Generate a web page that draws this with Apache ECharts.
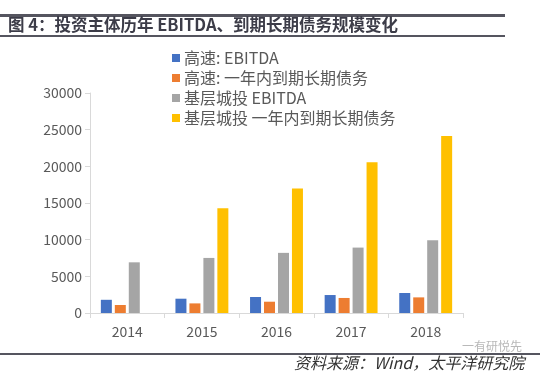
<!DOCTYPE html>
<html><head><meta charset="utf-8">
<script src="https://cdn.jsdelivr.net/npm/echarts@6/dist/echarts.min.js"></script>
<style>html,body{margin:0;padding:0;background:#fff}#c{width:550px;height:378px}</style>
</head><body><div id="c"></div>
<script>
const categories = ['2014','2015','2016','2017','2018'];
const seriesNames = ['高速: EBITDA','高速: 一年内到期长期债务','基层城投 EBITDA','基层城投 一年内到期长期债务'];
const hsEbitda = [1800, 1950, 2180, 2450, 2730];
const hsDebt = [1090, 1310, 1540, 2050, 2130];
const jcEbitda = [6910, 7510, 8200, 8920, 9920];
const jcDebt = [null, 14290, 16980, 20550, 24150];
const yTicks = [0, 5000, 10000, 15000, 20000, 25000, 30000];
const colors = ['#4472C4','#ED7D31','#A5A5A5','#FFC000'];
const values = [hsEbitda, hsDebt, jcEbitda, jcDebt];

const font = '"Noto Sans CJK SC", "Noto Sans", sans-serif';
const chart = echarts.init(document.getElementById('c'), null, {renderer:'canvas'});
chart.setOption({
  animation:false,
  textStyle:{fontFamily:font},
  color:colors,
  grid:{left:90,right:87,top:93,bottom:65,containLabel:false},
  legend:{
    orient:'vertical', left:167, top:45, itemWidth:8, itemHeight:8, itemGap:4,
    icon:'rect',
    textStyle:{fontSize:16, color:'#595959', lineHeight:16, fontFamily:font, padding:[0,0,0,-1]},
    data:seriesNames
  },
  xAxis:{
    type:'category', data:categories,
    axisLine:{lineStyle:{color:'#d9d9d9'}},
    axisTick:{show:true, alignWithLabel:false, length:5, lineStyle:{color:'#d9d9d9'}},
    axisLabel:{fontSize:14, color:'#595959', margin:12, fontFamily:font}
  },
  yAxis:{
    type:'value', min:yTicks[0], max:yTicks[yTicks.length-1], interval:5000,
    axisLine:{show:true, lineStyle:{color:'#d9d9d9'}},
    axisTick:{show:true, length:5, lineStyle:{color:'#d9d9d9'}},
    splitLine:{show:false},
    axisLabel:{fontSize:14, color:'#595959', margin:8, fontFamily:font, formatter:(v)=>String(v)}
  },
  series: seriesNames.map((n,i)=>({
    name:n, type:'bar', data:values[i], barWidth:11, barGap:'27%',
    itemStyle:{color:colors[i]}
  })),
  graphic:[
    {type:'rect', shape:{x:0,y:14,width:505,height:3}, style:{fill:'#55555f'}},
    {type:'text', left:8, top:16, style:{text:'图 4：投资主体历年 EBITDA、到期长期债务规模变化', font:'600 16.5px '+font, fill:'#3c3c48'}},
    {type:'rect', shape:{x:0,y:35,width:505,height:2}, style:{fill:'#55555f'}},
    {type:'rect', shape:{x:0,y:353,width:540,height:2}, style:{fill:'#55555f'}},
    {type:'text', left:462, top:340, style:{text:'一有研悦先', font:'12px '+font, fill:'#b8b8b8'}},
    {type:'text', left:294, top:355, style:{text:'资料来源：Wind，太平洋研究院', font:'italic 16px '+font, fill:'#333'}}
  ]
});
</script></body></html>
